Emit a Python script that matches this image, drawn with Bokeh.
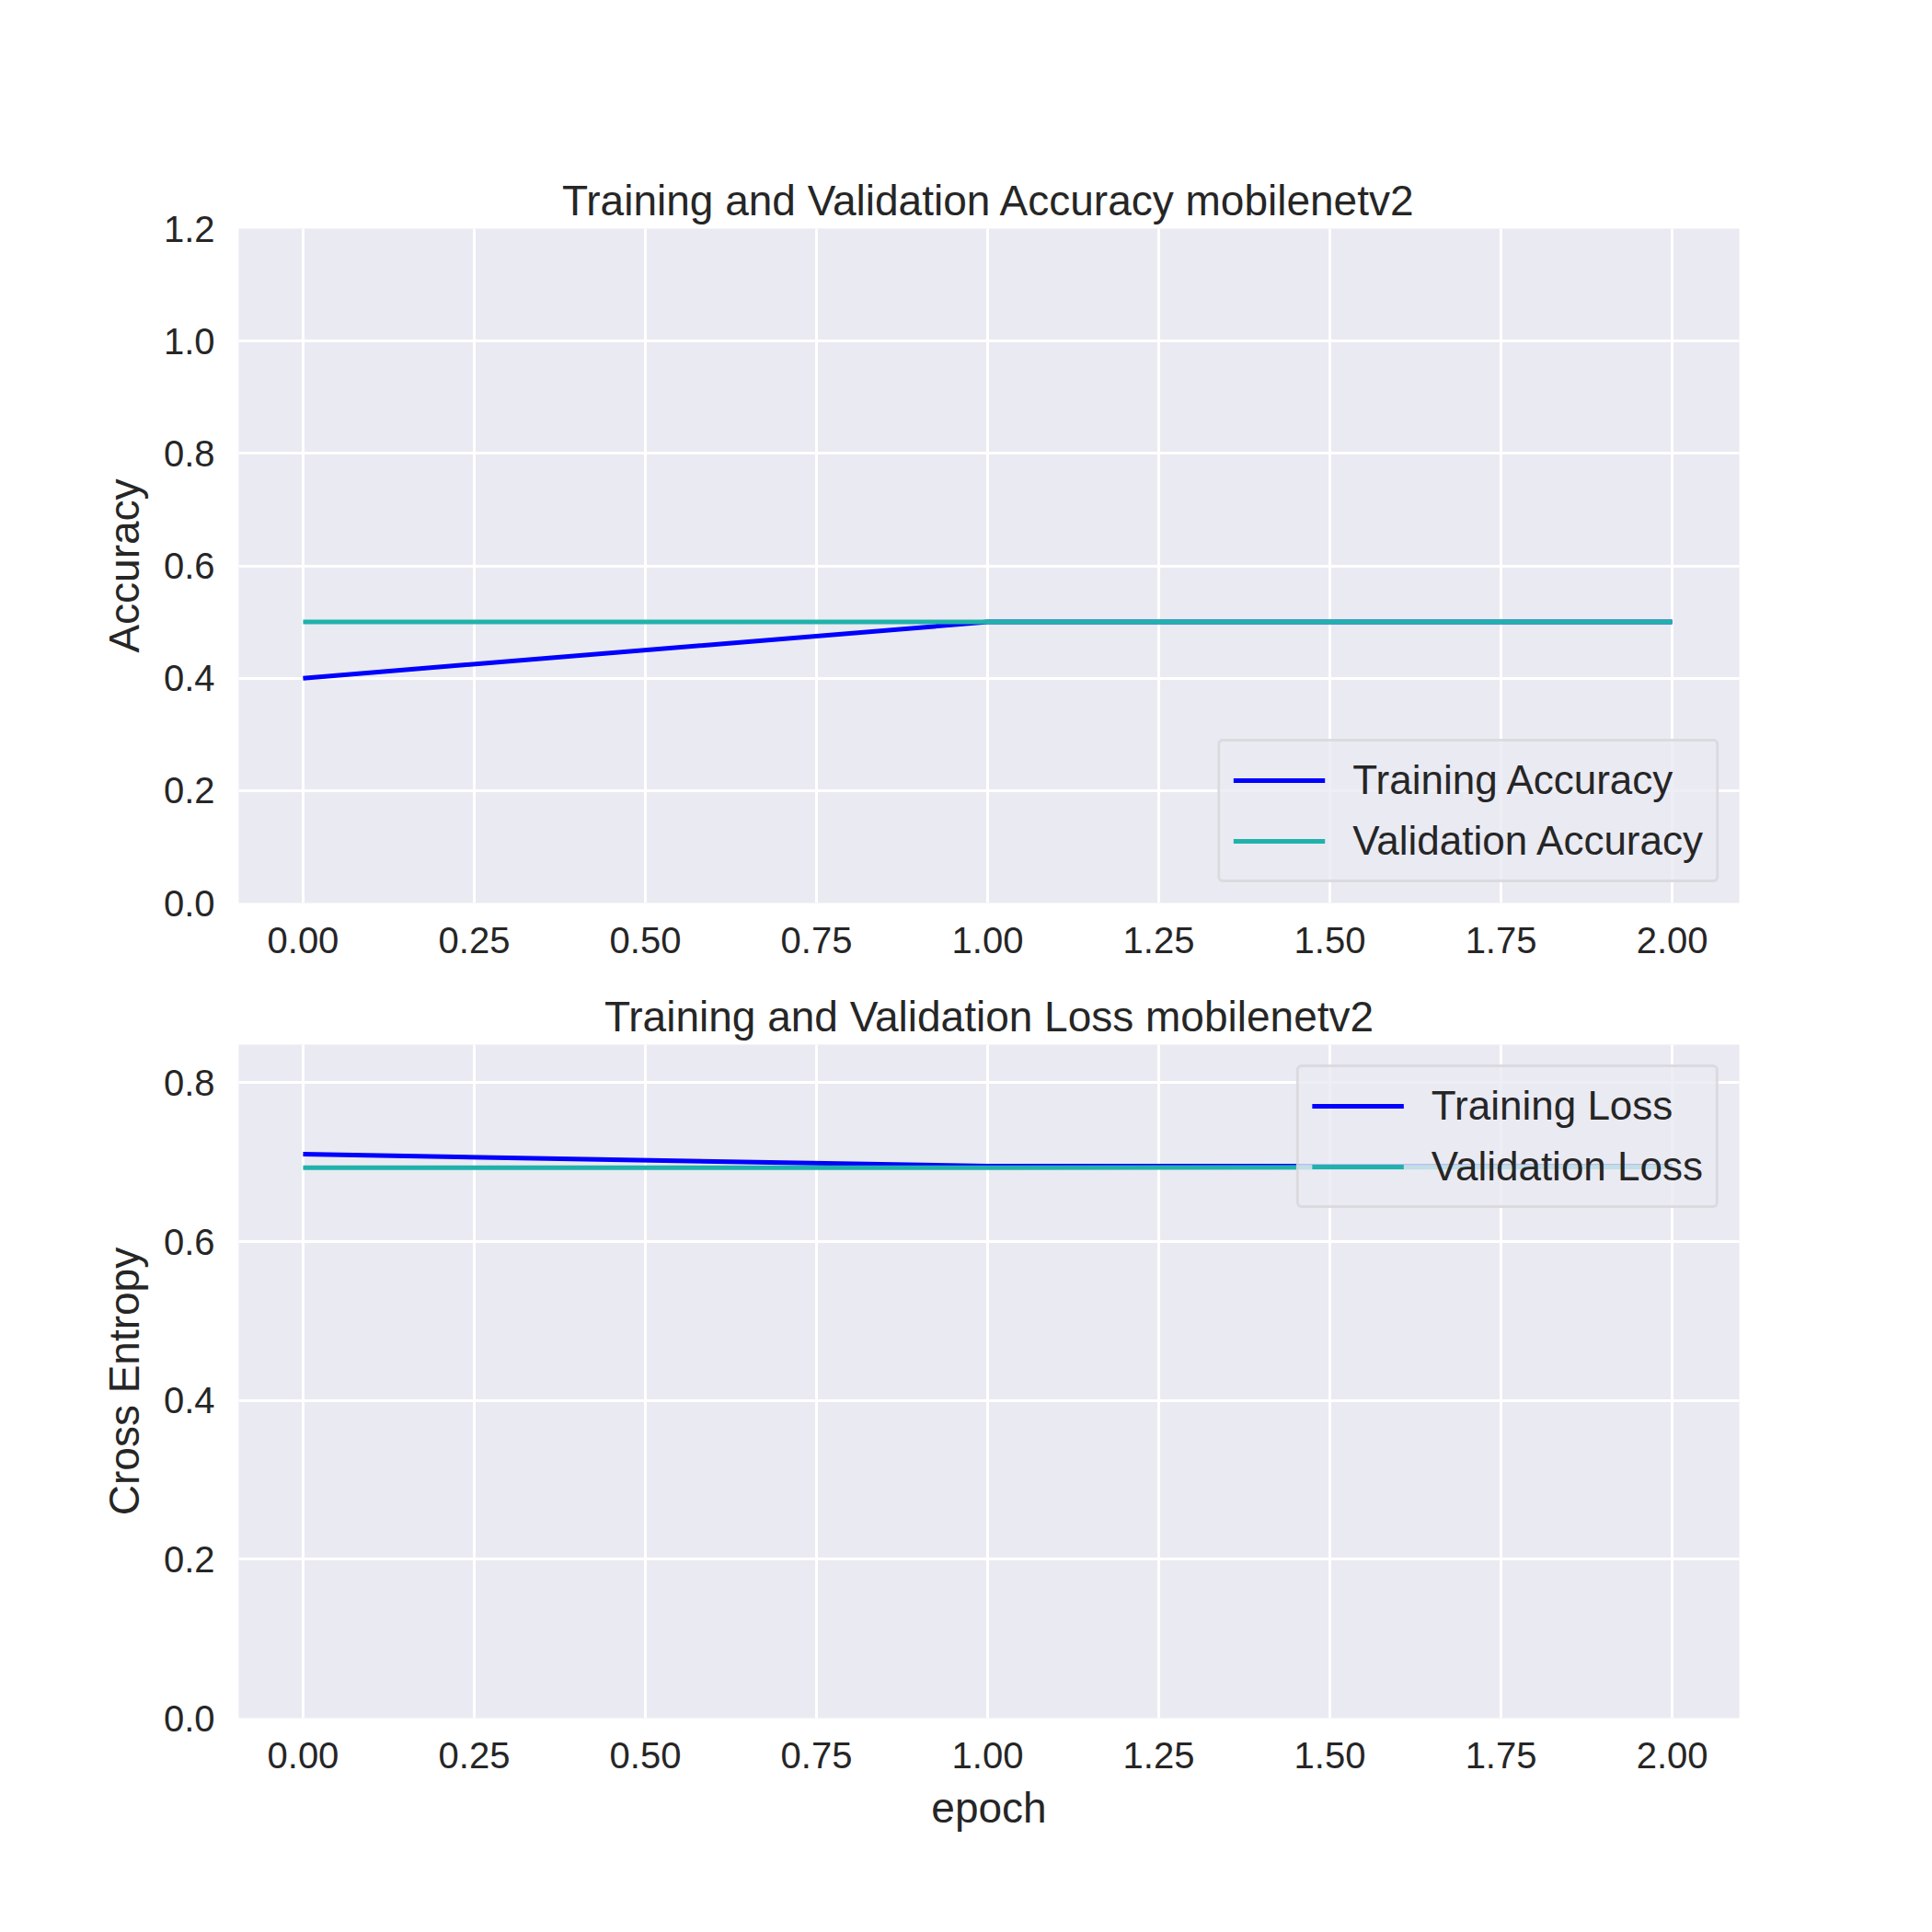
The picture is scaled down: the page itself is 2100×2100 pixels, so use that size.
from bokeh.embed import file_html
from bokeh.layouts import column
from bokeh.models import FixedTicker, Range1d, Legend, LegendItem
from bokeh.plotting import figure
from bokeh.resources import INLINE

epochs = [0, 1, 2]
train_acc = [0.40, 0.50, 0.50]
val_acc = [0.50, 0.50, 0.50]
train_loss = [0.710, 0.695, 0.695]
val_loss = [0.693, 0.693, 0.694]

x_ticks = [0, 0.25, 0.5, 0.75, 1.0, 1.25, 1.5, 1.75, 2.0]
FONT = "Liberation Sans"
TXT = "#262626"


def style(p, yticks, ylabel, xlabel=None):
    p.background_fill_color = "#eaeaf2"
    p.outline_line_color = None
    p.title.text_font = FONT
    p.title.text_font_size = "46px"
    p.title.text_font_style = "normal"
    p.title.text_color = TXT
    p.title.align = "center"
    p.xaxis.ticker = FixedTicker(ticks=x_ticks)
    p.xaxis.major_label_overrides = {t: f"{t:.2f}" for t in x_ticks}
    p.yaxis.ticker = FixedTicker(ticks=yticks)
    p.yaxis.major_label_overrides = {t: f"{t:.1f}" for t in yticks}
    for ax in (p.xaxis, p.yaxis):
        ax.axis_line_color = None
        ax.major_tick_line_color = None
        ax.minor_tick_line_color = None
        ax.major_label_text_font = FONT
        ax.major_label_text_font_size = "40px"
        ax.major_label_text_color = TXT
        ax.axis_label_text_font = FONT
        ax.axis_label_text_font_size = "46px"
        ax.axis_label_text_font_style = "normal"
        ax.axis_label_text_color = TXT
        ax.major_label_standoff = 20
        ax.axis_label_standoff = 14
    p.yaxis.axis_label = ylabel
    if xlabel:
        p.xaxis.axis_label = xlabel
    p.grid.grid_line_color = "white"
    p.grid.grid_line_width = 3


def add_legend(p, items, loc):
    leg = Legend(items=items, location=loc)
    leg.background_fill_color = "#eaeaf2"
    leg.background_fill_alpha = 0.8
    leg.border_line_color = "#cccccc"
    leg.border_line_width = 3
    leg.border_radius = 6
    leg.label_text_font = FONT
    leg.label_text_font_size = "44px"
    leg.label_text_color = TXT
    leg.glyph_width = 100
    leg.glyph_height = 56
    leg.label_standoff = 30
    leg.spacing = 10
    leg.padding = 14
    leg.margin = 22
    p.add_layout(leg)


p1 = figure(width=2084, height=1067, output_backend="svg", toolbar_location=None,
            title="Training and Validation Accuracy mobilenetv2",
            x_range=Range1d(-0.094, 2.098), y_range=Range1d(0, 1.2),
            min_border_left=259, min_border_right=194,
            min_border_top=248, min_border_bottom=86)
style(p1, [0, 0.2, 0.4, 0.6, 0.8, 1.0, 1.2], "Accuracy")
r1 = p1.line(epochs, train_acc, line_color="blue", line_width=5)
r2 = p1.line(epochs, val_acc, line_color="#20b2aa", line_width=5)
add_legend(p1, [LegendItem(label="Training Accuracy", renderers=[r1]),
                LegendItem(label="Validation Accuracy", renderers=[r2])], "bottom_right")

p2 = figure(width=2084, height=945, output_backend="svg", toolbar_location=None,
            title="Training and Validation Loss mobilenetv2",
            x_range=Range1d(-0.094, 2.098), y_range=Range1d(0, 0.848),
            min_border_left=259, min_border_right=194,
            min_border_top=68, min_border_bottom=145)
style(p2, [0, 0.2, 0.4, 0.6, 0.8], "Cross Entropy", "epoch")
r3 = p2.line(epochs, train_loss, line_color="blue", line_width=5)
r4 = p2.line(epochs, val_loss, line_color="#20b2aa", line_width=5)
add_legend(p2, [LegendItem(label="Training Loss", renderers=[r3]),
                LegendItem(label="Validation Loss", renderers=[r4])], "top_right")

p = column(p1, p2)
open("out.html", "w").write(file_html(p, INLINE))
